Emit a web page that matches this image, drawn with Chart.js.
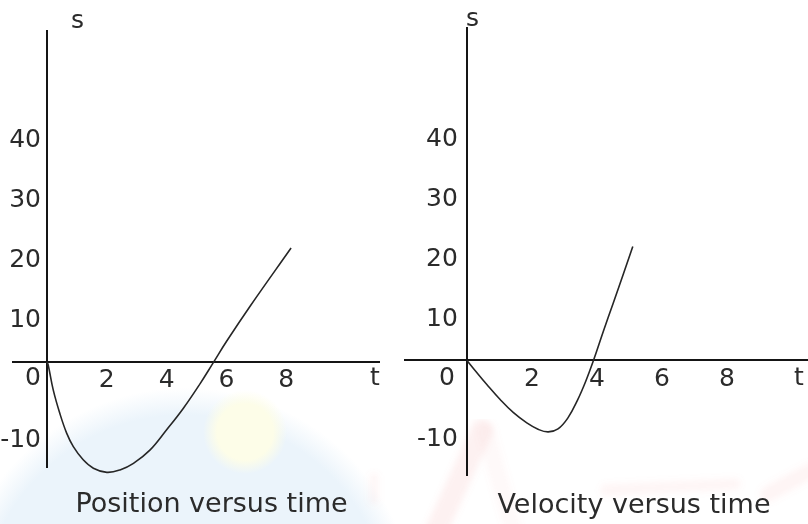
<!DOCTYPE html>
<html>
<head>
<meta charset="utf-8">
<script src="https://cdn.jsdelivr.net/npm/chart.js@4/dist/chart.umd.min.js"></script>
<style>
html,body{margin:0;padding:0;}
body{width:808px;height:524px;position:relative;overflow:hidden;background:
  radial-gradient(circle at 245px 432px, rgba(253,253,232,1) 0, rgba(253,253,232,1) 28px, rgba(253,253,232,0) 42px),
  radial-gradient(circle at 185px 620px, rgba(235,244,251,1) 0, rgba(235,244,251,1) 205px, rgba(235,244,251,0) 232px),
  #ffffff;}
#wm{position:absolute;left:0;top:0;}
.box{position:absolute;top:0;width:404px;height:524px;}
#b1{left:0;} #b2{left:404px;}
</style>
</head>
<body>
<svg id="wm" width="808" height="524" xmlns="http://www.w3.org/2000/svg">
  <defs><filter id="bl"><feGaussianBlur stdDeviation="3"/></filter></defs>
  <g fill="none" stroke-linecap="round" filter="url(#bl)">
    <path d="M432 540 L482 430" stroke="rgba(240,140,140,0.12)" stroke-width="22"/>
    <path d="M486 432 L516 540" stroke="rgba(240,140,140,0.05)" stroke-width="18"/>
    <path d="M606 490 L735 484" stroke="rgba(240,140,140,0.08)" stroke-width="12"/>
    <path d="M768 494 L812 470" stroke="rgba(240,140,140,0.09)" stroke-width="16"/>
    <path d="M374 478 L374 500" stroke="rgba(240,140,140,0.07)" stroke-width="10"/>
  </g>
</svg>
<div class="box" id="b1"><canvas id="c1" width="404" height="524"></canvas></div>
<div class="box" id="b2"><canvas id="c2" width="404" height="524"></canvas></div>
<script>
// ---- data ----
const posT = [0, 0.04, 0.21, 0.43, 0.66, 0.88, 1.21, 1.55, 2.0, 2.44, 2.89, 3.44, 4.0, 4.56, 5.12, 5.56, 6.01, 6.79, 8.16];
const posS = [0, -0.5, -4.7, -8.6, -11.9, -14.1, -16.3, -17.7, -18.4, -18.0, -16.9, -14.7, -11.3, -7.7, -3.6, -0.1, 3.5, 9.3, 19.0];
const velT = [0, 0.30, 0.61, 1.02, 1.43, 1.84, 2.20, 2.50, 2.80, 3.10, 3.40, 3.65, 3.89, 4.19, 4.50, 4.81, 5.10];
const velS = [0, -2.0, -4.0, -6.5, -8.7, -10.4, -11.5, -11.9, -11.4, -9.6, -6.6, -3.5, 0.0, 4.8, 9.6, 14.4, 19.0];
const xTickValues = [0, 2, 4, 6, 8];
const xTickLabels = ['', '2', '4', '6', '8'];
const yTickValues = [-10, 10, 20, 30, 40];
const yTickLabels = ['-10', '10', '20', '30', '40'];
const xAxisName = 't';
const yAxisName = 's';
const originLabel = '0';
const chartTitles = ['Position versus time', 'Velocity versus time'];

const FONT = '"DejaVu Sans", Verdana, sans-serif';
const TEXT = '#2b2b2b';
const AXIS = '#151515';

const annotPlugin = {
  id: 'annot',
  afterDraw(chart, args, o) {
    const {ctx, chartArea} = chart;
    const xs = chart.scales.x, ys = chart.scales.y;
    const ox = xs.getPixelForValue(0), oy = ys.getPixelForValue(0);
    ctx.save();
    ctx.fillStyle = TEXT;
    ctx.font = '25px ' + FONT;
    ctx.textAlign = 'center';
    ctx.textBaseline = 'middle';
    ctx.fillText(originLabel, ox + o.originDx, oy + o.originDy);
    ctx.fillText(xAxisName, chartArea.right + o.tDx, oy + o.tDy);
    ctx.fillText(yAxisName, ox + o.sDx, chartArea.top + o.sDy);
    ctx.font = '27px ' + FONT;
    ctx.textBaseline = 'alphabetic';
    ctx.fillText(o.title, o.titleX, o.titleY);
    ctx.restore();
  }
};

function makeChart(id, tVals, sVals, cfg) {
  return new Chart(document.getElementById(id), {
    type: 'line',
    data: {
      datasets: [{
        data: tVals.map((t, i) => ({x: t, y: sVals[i]})),
        borderColor: '#262626',
        borderWidth: 1.6,
        pointRadius: 0,
        fill: false,
        tension: 0.4,
        clip: false
      }]
    },
    options: {
      responsive: false,
      animation: false,
      devicePixelRatio: 1,
      layout: {padding: cfg.padding},
      plugins: {
        legend: {display: false},
        tooltip: {enabled: false},
        title: {display: false},
        annot: cfg.annot
      },
      scales: {
        x: {
          type: 'linear',
          position: {y: 0},
          min: cfg.xmin, max: cfg.xmax,
          grid: {
            display: true, drawTicks: false, lineWidth: 2,
            color: c => (c.tick && c.tick.value === 0) ? AXIS : 'rgba(0,0,0,0)'
          },
          border: {display: true, color: AXIS, width: 2},
          afterBuildTicks: sc => { sc.ticks = xTickValues.map(v => ({value: v})); },
          ticks: {
            callback: (v, i) => xTickLabels[i],
            font: {family: FONT, size: 25},
            color: TEXT, padding: 4, maxRotation: 0, autoSkip: false
          }
        },
        y: {
          type: 'linear',
          position: {x: cfg.yLabelAt},
          min: cfg.ymin, max: cfg.ymax,
          grid: {display: false, drawTicks: false},
          border: {display: false},
          afterBuildTicks: sc => { sc.ticks = yTickValues.map(v => ({value: v})); },
          ticks: {
            callback: (v, i) => yTickLabels[i],
            font: {family: FONT, size: 25},
            color: TEXT, labelOffset: 19, autoSkip: false
          }
        }
      }
    },
    plugins: [annotPlugin]
  });
}

makeChart('c1', posT, posS, {
  padding: {left: 13, right: 25, top: 30, bottom: 56},
  xmin: -1.137, xmax: 11.10, ymin: -17.67, ymax: 55.33, yLabelAt: -0.2,
  annot: {originDx: -14, originDy: 17, tDx: -4, tDy: 17, sDx: 30.5, sDy: -9,
          title: chartTitles[0], titleX: 211.5, titleY: 512}
});
makeChart('c2', velT, velS, {
  padding: {left: 0, right: 0, top: 27, bottom: 48},
  xmin: -1.938, xmax: 10.49, ymin: -19.25, ymax: 55.58, yLabelAt: -0.28,
  annot: {originDx: -20, originDy: 18, tDx: -9, tDy: 18, sDx: 5.5, sDy: -8,
          title: chartTitles[1], titleX: 230, titleY: 512.5}
});
</script>
</body>
</html>
